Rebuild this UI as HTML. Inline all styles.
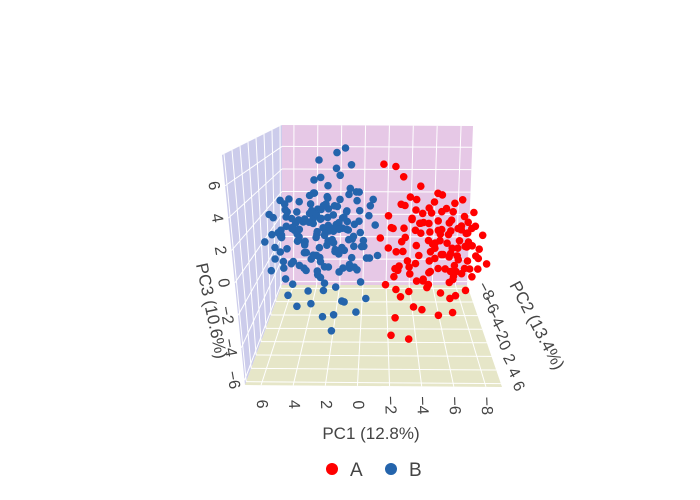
<!DOCTYPE html>
<html><head><meta charset="utf-8"><style>
body{margin:0;background:#fff;}
svg{display:block;font-family:"Liberation Sans",sans-serif;}
</style></head><body>
<svg id="chart" width="700" height="500" viewBox="0 0 700 500" xmlns="http://www.w3.org/2000/svg">
<g id="walls"></g><g id="grid"></g><g id="pts"></g><g id="ticks"></g>
<text x="371" y="439" font-size="17" fill="#444" text-anchor="middle">PC1 (12.8%)</text>
<text x="0" y="0" font-size="17" fill="#444" text-anchor="middle" transform="translate(206,312) rotate(78)">PC3 (10.6%)</text>
<text x="0" y="0" font-size="17" fill="#444" text-anchor="middle" transform="translate(532,328) rotate(62)">PC2 (13.4%)</text>
<g>
<g><circle cx="332" cy="469" r="6" fill="#ff0000"/><text x="350" y="476" font-size="19" fill="#444">A</text></g>
<g><circle cx="391" cy="469" r="6" fill="#2464ac"/><text x="409" y="476" font-size="19" fill="#444">B</text></g>
</g>
</svg>
<script>
const pc1Ticks=[6,4,2,0,-2,-4,-6,-8];
const pc2Ticks=[-8,-6,-4,-2,0,2,4,6];
const pc3Ticks=[6,4,2,0,-2,-4,-6];
const groupB=[[2.1,-4,0.3],[3.5,-3,-1.2],[1.2,-5,1.5],[4.8,-4,-0.5],[0.5,-3,-2.1],[2.8,-6,2.4],[5.5,-2,-1.8],[1.8,-2,-3.2],[3.2,-5,0.9],[0.1,-4,0.2],
[4.1,-6,1.8],[2.5,-1,-2.5],[1.0,-6,3.1],[6.0,-3,0.5],[3.8,-2,-3.5],[-0.5,-5,1.2],[2.2,-7,4.5],[4.5,-1,-4.2],[1.5,-3,-0.8],[3.0,-4,2.0],
[5.2,-5,0.0],[0.8,-2,-1.5],[2.6,-5,3.6],[6.5,-4,-1.0],[1.9,-1,-4.8],[-0.2,-3,-0.5],[3.6,-7,5.2],[4.2,-3,-2.2],[0.3,-6,2.8],[2.9,-2,-1.0],
[5.8,-6,2.2],[1.4,-4,-2.6],[3.3,-6,4.0],[7.0,-3,-0.2],[2.0,0,-5.5],[-1.0,-4,0.8],[1.6,-8,6.0],[4.9,-2,-3.0],[0.6,-5,0.5],[3.9,-4,1.0],
[2.4,-3,-0.1],[1.1,-4,1.9],[4.4,-5,-0.9],[0.0,-2,-2.8],[2.7,-6,1.4],[5.0,-3,0.9],[1.3,-1,-3.8],[3.4,-4,-1.6],[-0.8,-6,2.2],[2.3,-8,5.6],
[4.6,-4,2.6],[0.9,-3,0.0],[3.1,-2,-2.0],[6.2,-5,-0.6],[1.7,-5,2.5],[-0.4,-1,-3.6],[3.7,-5,3.0],[5.4,-2,-2.6],[2.0,-4,-1.3],[0.4,-4,3.4],
[4.0,-7,3.5],[2.6,0,-4.5],[1.0,-7,4.8],[5.6,-4,1.4],[3.5,-1,-4.0],[-1.2,-3,-1.2],[2.9,-5,-0.4],[4.7,-6,0.3],[1.5,-6,0.7],[3.2,-3,0.4],
[0.7,-4,-0.3],[2.2,-2,1.0],[4.3,-4,-1.4],[1.8,-5,-1.9],[6.8,-5,1.0],[0.2,-5,1.6],[3.0,-3,-2.9],[2.5,-4,2.9],[5.1,-1,-3.4],[1.2,-2,-4.3],
[3.8,-6,2.7],[-0.6,-4,-1.8],[2.1,-6,0.1],[4.5,-3,0.2],[1.6,-3,1.3],[3.4,-5,1.7],[0.3,-1,-4.6],[2.8,-3,-3.9],[5.9,-4,-2.1],[1.9,-7,3.9],
[0.2,-4,1.1],[1.4,-3,-0.6],[2.6,-5,0.4],[3.8,-4,-1.9],[5.0,-3,1.6],[6.2,-5,-0.4],[0.8,-5,-2.2],[2.0,-4,2.3],[3.2,-3,-2.7],[4.4,-5,0.9],
[5.6,-4,-1.1],[6.6,-3,1.9],[-0.4,-3,-1.4],[1.1,-6,2.6],[2.3,-2,-1.7],[3.5,-5,1.3],[4.7,-4,-2.4],[5.9,-5,2.1],[0.5,-2,0.6],[1.7,-4,-2.9],
[2.9,-6,1.8],[4.1,-3,-0.3],[5.3,-6,0.2],[6.4,-2,-2.0],[-0.6,-5,2.0],[1.0,-3,1.4],[2.2,-5,-1.0],[3.4,-2,2.5],[4.6,-6,-1.6],[5.8,-3,0.7],
[0.0,-4,-0.9],[1.2,-5,0.1],[2.4,-3,1.7],[3.6,-6,-0.5],[4.8,-2,-1.3],[6.0,-4,2.7],[0.7,-6,-1.7],[1.9,-2,2.2],[3.1,-4,-2.1],[4.3,-2,1.1],
[5.5,-5,-2.7],[6.7,-4,0.0],[-0.2,-2,0.3],[1.3,-4,-1.2],[2.5,-2,0.8],[3.7,-3,2.0],[4.9,-5,-0.8],[6.1,-6,1.3],[0.4,-5,2.4],[1.6,-6,-0.2],
[2.8,-4,-2.5],[4.0,-5,2.8],[5.2,-4,0.5],[6.3,-3,-1.5],[0.9,-4,-2.6],[2.1,-3,0.0],[3.3,-5,-1.4],[4.5,-3,1.5],[5.7,-2,-0.6],[1.5,-5,1.0],
[2.7,-3,2.6],[3.9,-6,0.6],[5.1,-2,2.4],[0.3,-3,-2.3],[1.8,-2,-0.4],[3.0,-5,0.2],[4.2,-4,-2.8],[5.4,-3,1.0],[6.5,-6,-0.9],[2.0,-6,1.6],
[3.6,-4,0.9],[4.8,-4,1.8],[1.0,-4,0.4],[2.6,-4,-0.8],[4.0,-3,-1.0],[3.0,-4,1.3],[1.6,-3,0.8],[5.0,-5,-0.3],[2.2,-4,0.5],[3.4,-4,-0.2]];
const groupA=[[-6,-4,-1.5],[-7.5,-5,-0.8],[-5,-3,-2.5],[-8,-4,-2],[-4.5,-5,-0.2],[-6.8,-3,-3],[-3.5,-2,-3.5],[-7,-6,0.5],[-5.5,-4,-1],[-8.5,-5,-1.2],
[-4,-3,-1.8],[-6.5,-2,-4],[-2.5,-1,-5],[-7.8,-6,-0.3],[-5.8,-5,0.8],[-3,-4,-0.5],[-6.2,-3,-2.2],[-8.2,-3,-2.8],[-4.8,-2,-3.2],[-7.2,-4,-1.6],
[-5.2,-6,1.5],[-3.8,-5,1.0],[-6.8,-5,0.0],[-8.8,-4,-1.8],[-2.8,-3,-2.0],[-5.6,-1,-4.8],[-7.6,-2,-3.4],[-4.2,-6,2.2],[-6.4,-4,-0.6],[-1.8,-2,-3.0],
[-3.2,-7,3.8],[-1.6,-8,4.6],[-2.6,-8,4.4],[-4.6,-7,3.0],[-6.0,-7,2.4],[-8.0,-6,0.8],[-5.0,-4,-0.4],[-7.0,-3,-2.4],[-2.2,0,-5.8],[-3.4,1,-5.6],
[-4.4,-1,-4.4],[-6.6,-1,-4.6],[-5.4,-3,-1.4],[-7.4,-5,-1.4],[-3.6,-3,-2.6],[-8.4,-5,0.2],[-6.2,-6,1.2],[-4.0,-4,0.4],[-5.8,-2,-3.6],[-7.8,-4,-2.6],
[-2.0,-4,-1.0],[-2.4,-2,-2.4],[-1.4,-5,-0.6],[-3.0,-6,1.8],[-5.2,-5,-0.1],[-6.8,-4,-1.0],[-8.6,-3,-2.2],[-4.6,-3,-3.0],[-7.2,-6,1.9],[-3.8,-1,-4.2],
[-6.0,-5,-0.8],[-5.0,-2,-2.0],[-7.6,-5,0.4],[-4.4,-5,0.6],[-2.6,-3,-3.8],[-8.2,-6,-0.6],[-6.4,-2,-2.8],[-3.2,-5,0.2],[-5.6,-6,2.0],[-7.0,-4,-3.2],
[-2.2,-4,0.6],[-3.4,-3,-1.6],[-4.6,-5,1.4],[-5.8,-4,-2.6],[-7.0,-3,0.9],[-8.2,-5,-0.9],[-2.8,-5,-3.2],[-4.0,-4,2.0],[-5.2,-3,-0.3],[-6.4,-5,1.8],
[-7.6,-4,-3.0],[-8.8,-3,0.4],[-2.5,-3,-2.2],[-3.7,-6,2.4],[-4.9,-2,-1.2],[-6.1,-5,0.1],[-7.3,-4,-1.9],[-8.5,-5,1.5],[-3.0,-2,-0.5],[-4.2,-4,-3.6],
[-5.4,-6,1.1],[-6.6,-3,-2.4],[-7.8,-6,2.2],[-9.0,-2,-1.4],[-2.0,-5,1.2],[-3.2,-3,0.2],[-4.4,-5,-2.0],[-5.6,-2,0.8],[-6.8,-6,-0.7],[-8.0,-3,-2.2],
[-2.6,-4,-1.3],[-3.8,-5,0.9],[-5.0,-3,-3.4],[-6.2,-6,2.6],[-7.4,-2,-0.1],[-8.6,-4,-1.6],[-3.3,-6,1.7],[-4.5,-2,-2.7],[-5.7,-4,0.4],[-6.9,-2,-3.8],
[-8.1,-5,0.7],[-2.9,-2,-3.9],[-4.1,-4,-0.8],[-5.3,-5,-1.7],[-6.5,-4,1.0],[-7.7,-3,-0.5],[-8.9,-6,0.0],[-3.6,-4,-2.5],[-4.8,-6,0.3],[-6.0,-3,-1.1],
[-7.2,-5,-2.8],[-8.4,-2,-0.3],[-2.4,-6,-0.2],[-5.5,-4,-0.6],[-6.7,-4,-1.4],[-7.9,-4,0.2],[-4.3,-3,1.3],[-6.3,-2,-0.9],[-7.1,-6,1.2],[-5.1,-5,0.6]];

const X0=7,X1=-9,Y0=-8.5,Y1=6.5,Z0=-6.3,Z1=7.9;
const C={"000":[282,285],"100":[467,285],"010":[282,125],"110":[473,126],
"001":[245,385],"101":[502,387],"011":[222,155],"111":[524,158]};
function L(a,b,t){return [a[0]+(b[0]-a[0])*t,a[1]+(b[1]-a[1])*t];}
function proj(u,v,w){
 const a=L(L(C["000"],C["100"],u),L(C["010"],C["110"],u),v);
 const b=L(L(C["001"],C["101"],u),L(C["011"],C["111"],u),v);
 return L(a,b,w);}
function P(x,y,z){return proj((x-X0)/(X1-X0),(z-Z0)/(Z1-Z0),(y-Y0)/(Y1-Y0));}
const NS="http://www.w3.org/2000/svg";
function mk(tag,parent,attrs){const e=document.createElementNS(NS,tag);for(const k in attrs)e.setAttribute(k,attrs[k]);parent.appendChild(e);return e;}
function poly(pts){return pts.map(p=>p.join(',')).join(' ');}
const walls=document.getElementById('walls');
let w1=mk('polygon',walls,{points:poly([proj(0,0,0),proj(1,0,0),proj(1,1,0),proj(0,1,0)]),fill:'rgb(230,200,230)'});


let w2=mk('polygon',walls,{points:poly([proj(0,0,0),proj(0,0,1),proj(0,1,1),proj(0,1,0)]),fill:'rgb(204,204,235)'});


let w3=mk('polygon',walls,{points:poly([proj(0,0,0),proj(1,0,0),proj(1,0,1),proj(0,0,1)]),fill:'rgb(230,230,200)'});


const grid=document.getElementById('grid');
function line(a,b){const l=mk('line',grid,{x1:a[0],y1:a[1],x2:b[0],y2:b[1],stroke:'#fff','stroke-width':1});
 
 }
pc1Ticks.forEach(t=>{line(P(t,Y0,Z0),P(t,Y0,Z1));line(P(t,Y0,Z0),P(t,Y1,Z0));});
pc3Ticks.forEach(t=>{line(P(X0,Y0,t),P(X1,Y0,t));line(P(X0,Y0,t),P(X0,Y1,t));});
pc2Ticks.forEach(t=>{line(P(X0,t,Z0),P(X1,t,Z0));line(P(X0,t,Z0),P(X0,t,Z1));});
const pts=document.getElementById('pts');
function drawGroup(data,color,name){
 data.slice().sort((a,b)=>a[1]-b[1]).forEach(d=>{const p=P(d[0],d[1],d[2]);
  const c=mk('circle',pts,{cx:p[0].toFixed(1),cy:p[1].toFixed(1),r:3.8,fill:color});
  
  });}
drawGroup(groupB,'#2464ac','point-b');
drawGroup(groupA,'#ff0000','point-a');
const ticks=document.getElementById('ticks');
function tick(txt,p,rot,name){const t=mk('text',ticks,{x:0,y:0,'font-size':16,fill:'#444','text-anchor':'middle','dominant-baseline':'middle',transform:`translate(${p[0].toFixed(1)},${p[1].toFixed(1)}) rotate(${rot})`});
 t.textContent=txt.replace('-','\u2212');
 
 }
pc1Ticks.forEach(t=>{const p=P(t,Y1,Z0);tick(String(t),[p[0],p[1]+19],88,'x-tick-label');});
pc3Ticks.forEach(t=>{const p=P(X0,Y1,t);tick(String(t),[p[0]-12,p[1]],80,'z-tick-label');});
pc2Ticks.forEach(t=>{const p=P(X1,t,Z0);tick(String(t),[p[0]+17,p[1]+3],62,'y-tick-label');});
</script>
</body></html>
